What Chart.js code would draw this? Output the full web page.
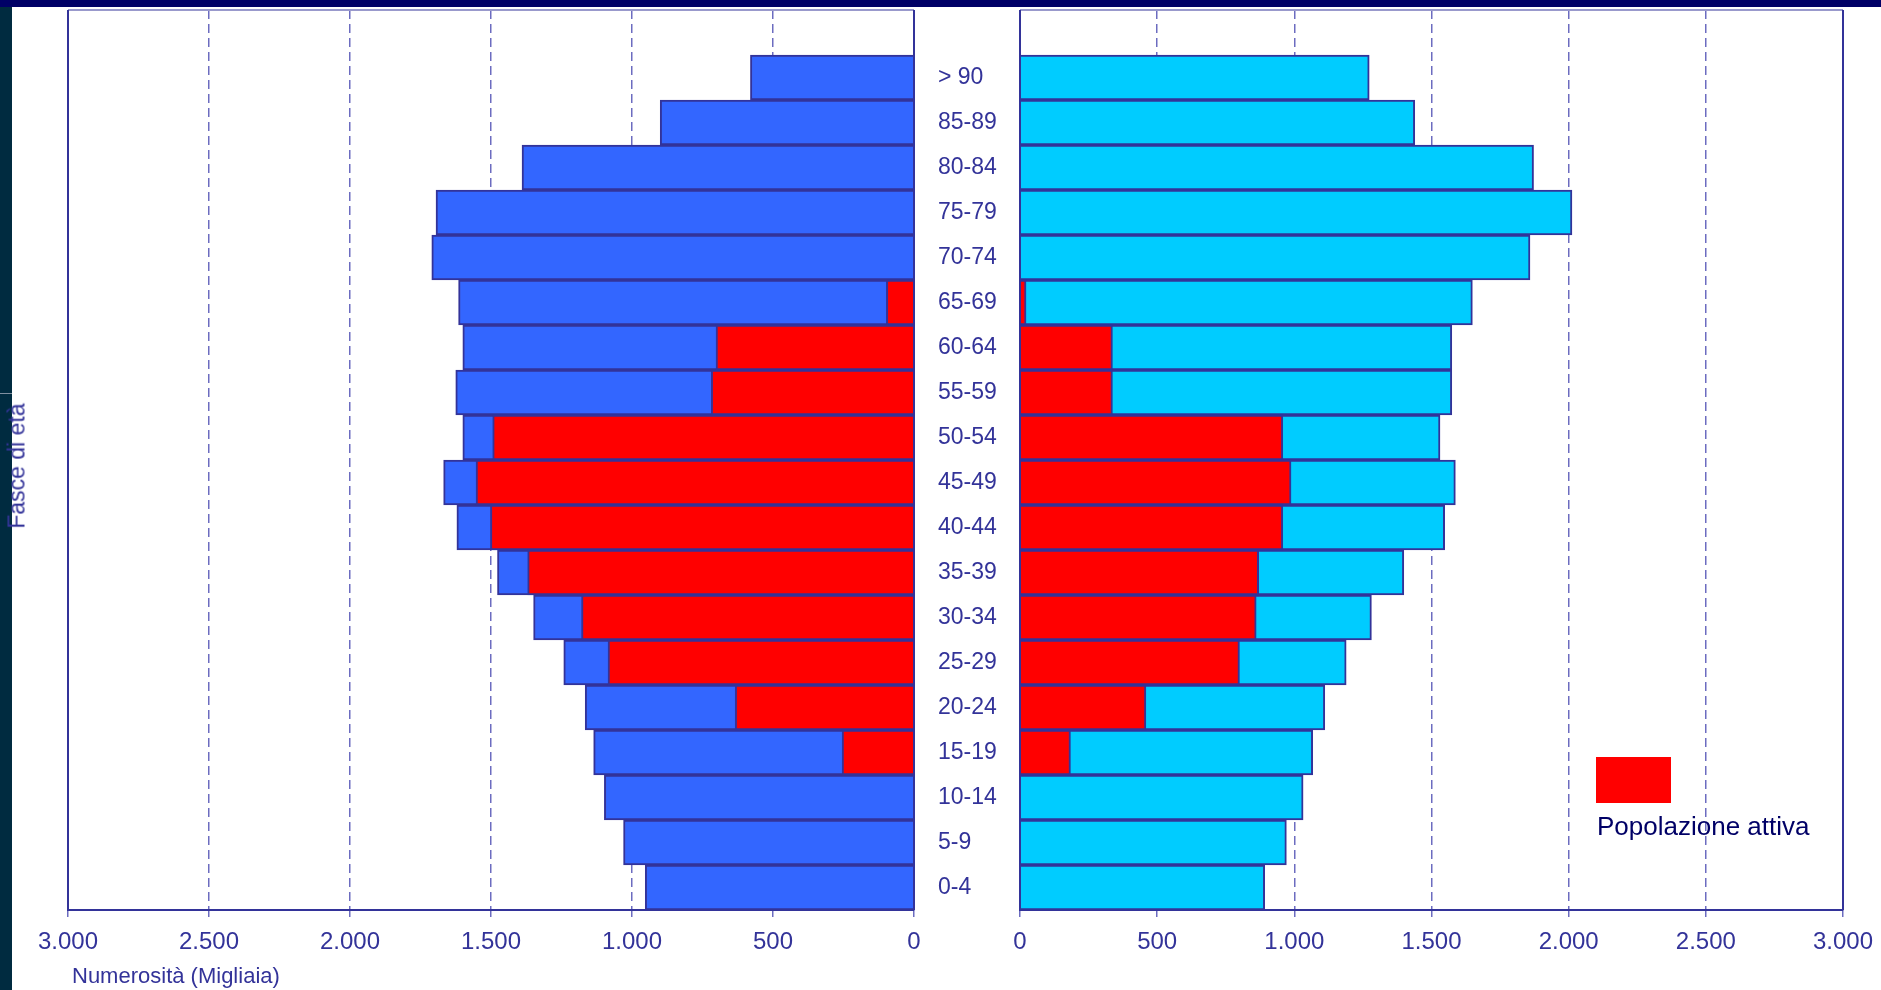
<!DOCTYPE html>
<html>
<head>
<meta charset="utf-8">
<script src="https://cdn.jsdelivr.net/npm/chart.js@4.4.1/dist/chart.umd.min.js"></script>
<style>
  body { margin: 0; width: 1881px; height: 990px; overflow: hidden; position: relative; background: #fff;
         font-family: "Liberation Sans", Arial, sans-serif; }
  #leftChart { position: absolute; left: 0; top: 0; }
  #rightChart { position: absolute; left: 938px; top: 0; }
  #topbar { position: absolute; left: 0; top: 0; width: 1881px; height: 7px; background: #000066; }
  #strip { position: absolute; left: 0; top: 7px; width: 12px; height: 983px; background: #002b40; }
  #stripLine { position: absolute; left: 0; top: 393px; width: 12px; height: 1px; background: #7f8fa0; }
  #yTitle { position: absolute; left: 17px; top: 466px; transform: translate(-50%, -50%) rotate(-90deg);
            color: #333399; font-size: 23px; white-space: nowrap; }
  #xTitle { position: absolute; left: 72px; top: 963px; color: #333399; font-size: 22px; white-space: nowrap; }
  #legendBox { position: absolute; left: 1596px; top: 757px; width: 75px; height: 46px; background: #ff0000; }
  #legendText { position: absolute; left: 1597px; top: 811px; color: #000066; font-size: 26px; white-space: nowrap; }
</style>
</head>
<body>
<canvas id="leftChart" width="960" height="990"></canvas>
<canvas id="rightChart" width="943" height="990"></canvas>
<div id="topbar"></div>
<div id="strip"></div>
<div id="stripLine"></div>
<div id="yTitle">Fasce di età</div>
<div id="xTitle">Numerosità (Migliaia)</div>
<div id="legendBox"></div>
<div id="legendText">Popolazione attiva</div>

<script>
// Age groups, top to bottom
var ageGroups = ['> 90', '85-89', '80-84', '75-79', '70-74', '65-69', '60-64', '55-59', '50-54', '45-49',
                 '40-44', '35-39', '30-34', '25-29', '20-24', '15-19', '10-14', '5-9', '0-4'];

// thousands
var maleTotal    = [580, 900, 1390, 1695, 1710, 1615, 1600, 1625, 1600, 1668, 1621, 1477, 1349, 1242, 1166, 1136, 1098, 1030, 953];
var maleActive   = [null, null, null, null, null, 98, 702, 719, 1494, 1553, 1502, 1370, 1179, 1085, 634, 255, null, null, null];
var femaleTotal  = [1273, 1439, 1872, 2012, 1859, 1649, 1574, 1574, 1531, 1587, 1548, 1399, 1281, 1189, 1111, 1067, 1032, 971, 892];
var femaleActive = [null, null, null, null, null, 22, 337, 337, 958, 988, 958, 870, 861, 800, 459, 184, null, null, null];

var xMax = 3000;
var xStep = 500;

Chart.defaults.font.family = '"Liberation Sans", Arial, sans-serif';
Chart.defaults.color = '#333399';

// empty row on top of the chart
var labels = [''].concat(ageGroups);
function pad(arr) { return [null].concat(arr); }

// 1000 -> "1.000"
function formatThousands(v) {
    if (v >= 1000) {
        return Math.floor(v / 1000) + '.' + String(v % 1000).padStart(3, '0');
    }
    return String(v);
}

// frame around the plot area
var framePlugin = {
    id: 'frame',
    afterDatasetsDraw: function(chart) {
        var ctx = chart.ctx;
        var a = chart.chartArea;
        ctx.save();
        ctx.lineWidth = 2;
        ctx.strokeStyle = '#9999cc';
        ctx.beginPath();
        ctx.moveTo(a.left, a.top);
        ctx.lineTo(a.right, a.top);
        ctx.stroke();
        ctx.strokeStyle = '#333399';
        ctx.beginPath();
        ctx.moveTo(a.left, a.top);
        ctx.lineTo(a.left, a.bottom);
        ctx.moveTo(a.right, a.top);
        ctx.lineTo(a.right, a.bottom);
        ctx.stroke();
        ctx.restore();
    }
};

function xScale(reverse) {
    return {
        type: 'linear',
        reverse: reverse,
        min: 0,
        max: xMax,
        afterFit: function(scale) {
            scale.height = 80;
            scale.paddingLeft = 0;
            scale.paddingRight = 0;
        },
        ticks: {
            stepSize: xStep,
            padding: 11,
            font: { size: 24 },
            color: '#333399',
            callback: function(v) { return formatThousands(v); }
        },
        grid: {
            color: '#6c6cc0',
            lineWidth: 1.5,
            tickLength: 7,
            tickColor: '#6c6cc0'
        },
        border: {
            color: '#333399',
            width: 2,
            dash: [9, 5]
        }
    };
}

function barSet(data, color, order) {
    return {
        data: pad(data),
        backgroundColor: color,
        borderColor: '#333399',
        borderWidth: 2,
        barPercentage: 1,
        categoryPercentage: 1,
        grouped: false,
        order: order
    };
}

var leftChart = new Chart(document.getElementById('leftChart').getContext('2d'), {
    type: 'bar',
    data: {
        labels: labels,
        datasets: [barSet(maleTotal, '#3366ff', 1), barSet(maleActive, '#ff0000', 0)]
    },
    options: {
        indexAxis: 'y',
        responsive: false,
        animation: false,
        layout: { padding: { left: 68, right: 46, top: 10, bottom: 0 } },
        plugins: { legend: { display: false }, tooltip: { enabled: false } },
        scales: {
            x: xScale(true),
            y: { display: false }
        }
    },
    plugins: [framePlugin]
});

var rightChart = new Chart(document.getElementById('rightChart').getContext('2d'), {
    type: 'bar',
    data: {
        labels: labels,
        datasets: [barSet(femaleTotal, '#00ccff', 1), barSet(femaleActive, '#ff0000', 0)]
    },
    options: {
        indexAxis: 'y',
        responsive: false,
        animation: false,
        layout: { padding: { left: 0, right: 38, top: 10, bottom: 0 } },
        plugins: { legend: { display: false }, tooltip: { enabled: false } },
        scales: {
            x: xScale(false),
            y: {
                afterFit: function(scale) {
                    scale.width = 82;
                    scale.paddingTop = 0;
                    scale.paddingBottom = 0;
                },
                grid: { display: false },
                border: { display: false },
                ticks: {
                    crossAlign: 'far',
                    padding: 0,
                    font: { size: 23 },
                    color: '#333399'
                }
            }
        }
    },
    plugins: [framePlugin]
});
</script>
</body>
</html>
